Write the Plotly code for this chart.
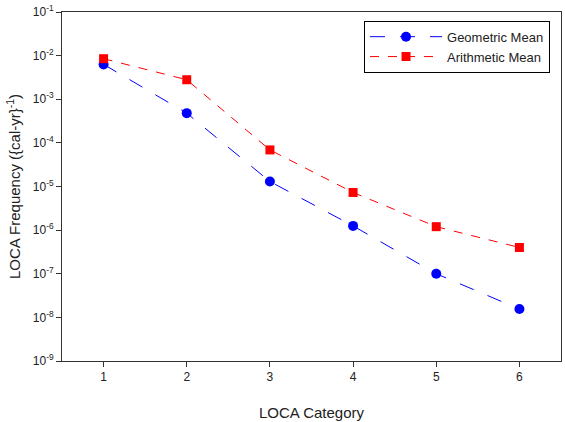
import plotly.graph_objects as go

categories = [1, 2, 3, 4, 5, 6]
geometric_mean = [6.3e-3, 4.8e-4, 1.3e-5, 1.25e-6, 1.0e-7, 1.55e-8]
arithmetic_mean = [8.5e-3, 2.8e-3, 6.9e-5, 7.3e-6, 1.2e-6, 4.0e-7]
y_tick_vals = [1e-1, 1e-2, 1e-3, 1e-4, 1e-5, 1e-6, 1e-7, 1e-8, 1e-9]
y_tick_text = ["10<sup>-%d</sup>" % i for i in range(1, 10)]

fig = go.Figure()
fig.add_trace(go.Scatter(
    x=categories, y=geometric_mean, name="Geometric Mean",
    mode="lines+markers",
    line=dict(color="#0000ff", width=1, dash="longdash"),
    marker=dict(symbol="circle", size=10, color="#0000ff"),
))
fig.add_trace(go.Scatter(
    x=categories, y=arithmetic_mean, name="Arithmetic Mean",
    mode="lines+markers",
    line=dict(color="#ff0000", width=1, dash="dash"),
    marker=dict(symbol="square", size=9, color="#ff0000"),
))

fig.update_layout(
    width=565, height=422,
    margin=dict(l=62, r=3, t=11, b=60),
    paper_bgcolor="white", plot_bgcolor="white",
    font=dict(family="Liberation Sans, Arial, sans-serif", color="#222222", size=12),
    showlegend=True,
    legend=dict(
        x=0.978, y=0.975, xanchor="right", yanchor="top",
        bordercolor="#000000", borderwidth=1, bgcolor="white",
        font=dict(size=13), itemwidth=72, tracegroupgap=0,
    ),
)
fig.update_xaxes(
    range=[0.5, 6.5], tickvals=categories,
    ticks="outside", ticklen=5, tickcolor="#333333",
    showline=True, linecolor="#333333", linewidth=1, mirror=True,
    showgrid=False, zeroline=False,
    title=dict(text="LOCA Category", font=dict(size=15), standoff=24),
    tickfont=dict(size=12),
)
fig.update_yaxes(
    type="log", range=[-9, -1],
    tickvals=y_tick_vals, ticktext=y_tick_text,
    ticks="outside", ticklen=5, tickcolor="#333333",
    showline=True, linecolor="#333333", linewidth=1, mirror=True,
    showgrid=False, zeroline=False,
    title=dict(text="LOCA Frequency ({cal-yr}<sup>-1</sup>)", font=dict(size=15), standoff=8),
    tickfont=dict(size=12),
)

fig.write_html("out.html")
